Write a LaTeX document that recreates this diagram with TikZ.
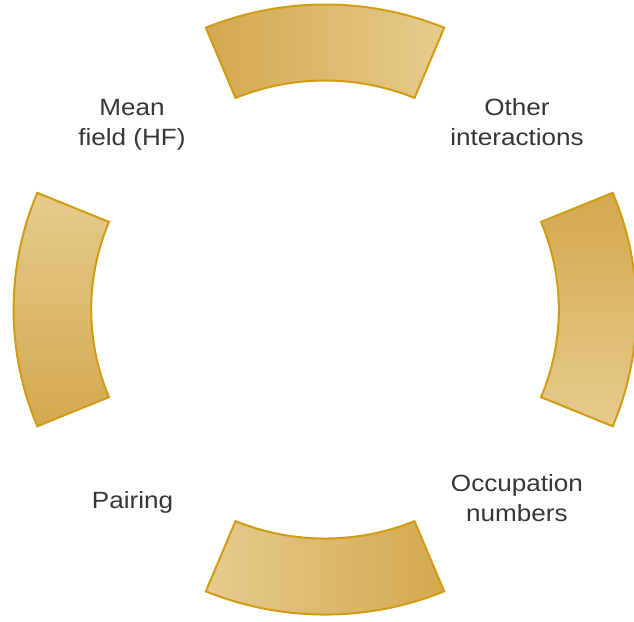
\documentclass[tikz,border=0pt]{standalone}
\usepackage{fontspec}
\setmainfont{Liberation Sans}[FakeStretch=1.11]
\usetikzlibrary{positioning}
\definecolor{golddark}{HTML}{D4A94F}
\definecolor{goldlight}{HTML}{E5CB8C}
\definecolor{goldline}{HTML}{CF9C14}
\definecolor{labelgray}{HTML}{363636}

\begin{document}
\begin{tikzpicture}[x=1.021pt,y=1pt,
    sector/.style={draw=goldline,line width=2pt,line join=miter},
    lbl/.style={align=center,text=labelgray,inner sep=0pt,
      font=\fontsize{23.5}{30}\selectfont}]
  \useasboundingbox (-318.3,-311.5) rectangle (302.6,309.5);
  \coordinate (c) at (0,0);
  % four ring pieces
  \draw[sector,left color=golddark,right color=goldlight]
    (67.5:305) arc (67.5:112.5:305) -- (112.5:229) arc (112.5:67.5:229) -- cycle;
  \draw[sector,top color=goldlight,bottom color=golddark]
    (157.5:305) arc (157.5:202.5:305) -- (202.5:229) arc (202.5:157.5:229) -- cycle;
  \draw[sector,left color=goldlight,right color=golddark]
    (247.5:305) arc (247.5:292.5:305) -- (292.5:229) arc (292.5:247.5:229) -- cycle;
  \draw[sector,top color=golddark,bottom color=goldlight]
    (-22.5:305) arc (-22.5:22.5:305) -- (22.5:229) arc (22.5:-22.5:229) -- cycle;
  % labels
  \node (mf) [lbl] at (-189,185) {Mean\\field (HF)};
  \node (oi) [lbl] at (188,187.5) {Other\\interactions};
  \node (on) [lbl] at (188,-188.5) {Occupation\\numbers};
  \node (pa) [lbl,anchor=base] at (-188.5,-198.5) {Pairing};
\end{tikzpicture}
\end{document}
